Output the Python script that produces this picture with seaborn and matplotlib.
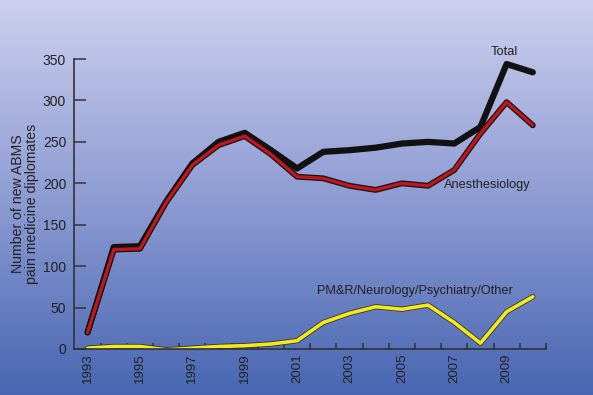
import numpy as np
import matplotlib
matplotlib.use("Agg")
import matplotlib.pyplot as plt
import matplotlib.patheffects as pe
from matplotlib.colors import LinearSegmentedColormap
import seaborn as sns
import pandas as pd

years = list(range(1993, 2011))
total = [20, 123, 124, 178, 224, 250, 261, 240, 218, 238, 240, 243, 248, 250, 248, 268, 344, 334]
anesthesiology = [20, 120, 121, 177, 222, 246, 257, 235, 208, 206, 197, 192, 200, 197, 216, 260, 298, 270]
other = [1, 3, 3, -1, 1, 3, 4, 6, 10, 32, 43, 51, 48, 53, 32, 7, 45, 63]

df = pd.DataFrame({"year": years, "Total": total,
                   "Anesthesiology": anesthesiology, "Other": other})

sns.set_style("ticks")
plt.rcParams['font.family'] = ['Liberation Sans', 'DejaVu Sans']

fig = plt.figure(figsize=(5.93, 3.95), dpi=100)

# gradient background
bg = fig.add_axes([0, 0, 1, 1], zorder=0)
cmap = LinearSegmentedColormap.from_list("bg", ["#cdd0ee", "#8e9cd3", "#4866b2"])
grad = np.linspace(0, 1, 256).reshape(-1, 1)
bg.imshow(grad, aspect="auto", cmap=cmap, extent=[0, 1, 0, 1])
bg.set_axis_off()

ax = fig.add_axes([0.1256, 0.1165, 0.795, 0.734], zorder=1)
ax.patch.set_alpha(0)

outline = [pe.Stroke(linewidth=4.2, foreground="#111111"), pe.Normal()]
sns.lineplot(data=df, x="year", y="Total", ax=ax, color="#111111", linewidth=4.5)
sns.lineplot(data=df, x="year", y="Anesthesiology", ax=ax, color="#c0161c",
             linewidth=2.4, path_effects=outline)
sns.lineplot(data=df, x="year", y="Other", ax=ax, color="#f2ea1d",
             linewidth=2.6, path_effects=[pe.Stroke(linewidth=3.8, foreground="#333333"), pe.Normal()])

ax.set_xlim(1992.5, 2010.5)
ax.set_ylim(0, 350)
ax.set_xticks(range(1993, 2011, 2))
ax.set_xticklabels([str(y) for y in range(1993, 2011, 2)], rotation=90, fontsize=9.5, color="#222222")
ax.set_xticks(np.arange(1993.5, 2011, 1), minor=True)
ax.tick_params(axis="x", which="major", length=0, pad=3)
ax.tick_params(axis="x", which="minor", direction="in", length=4.5, width=1.1, color="#333333")
ax.set_yticks(range(0, 351, 50))
ax.tick_params(axis="y", direction="in", length=8.5, width=1.1, color="#333333",
               labelsize=10, labelcolor="#222222", pad=6)
for s in ["top", "right"]:
    ax.spines[s].set_visible(False)
for s in ["left", "bottom"]:
    ax.spines[s].set_color("#333333")
    ax.spines[s].set_linewidth(1.2)

ax.set_xlabel("")
ax.set_ylabel("Number of new ABMS\npain medicine diplomates", fontsize=10.2, color="#222222",
              labelpad=2.7, linespacing=1.0)

ax.text(2008.9, 358, "Total", fontsize=9.3, color="#222222", ha="center", va="center")
ax.text(2008.25, 198, "Anesthesiology", fontsize=9.2, color="#222222", ha="center", va="center")
ax.text(2005.5, 70, "PM&R/Neurology/Psychiatry/Other", fontsize=9.2, color="#222222",
        ha="center", va="center")

fig.savefig("out.png", dpi=100)
